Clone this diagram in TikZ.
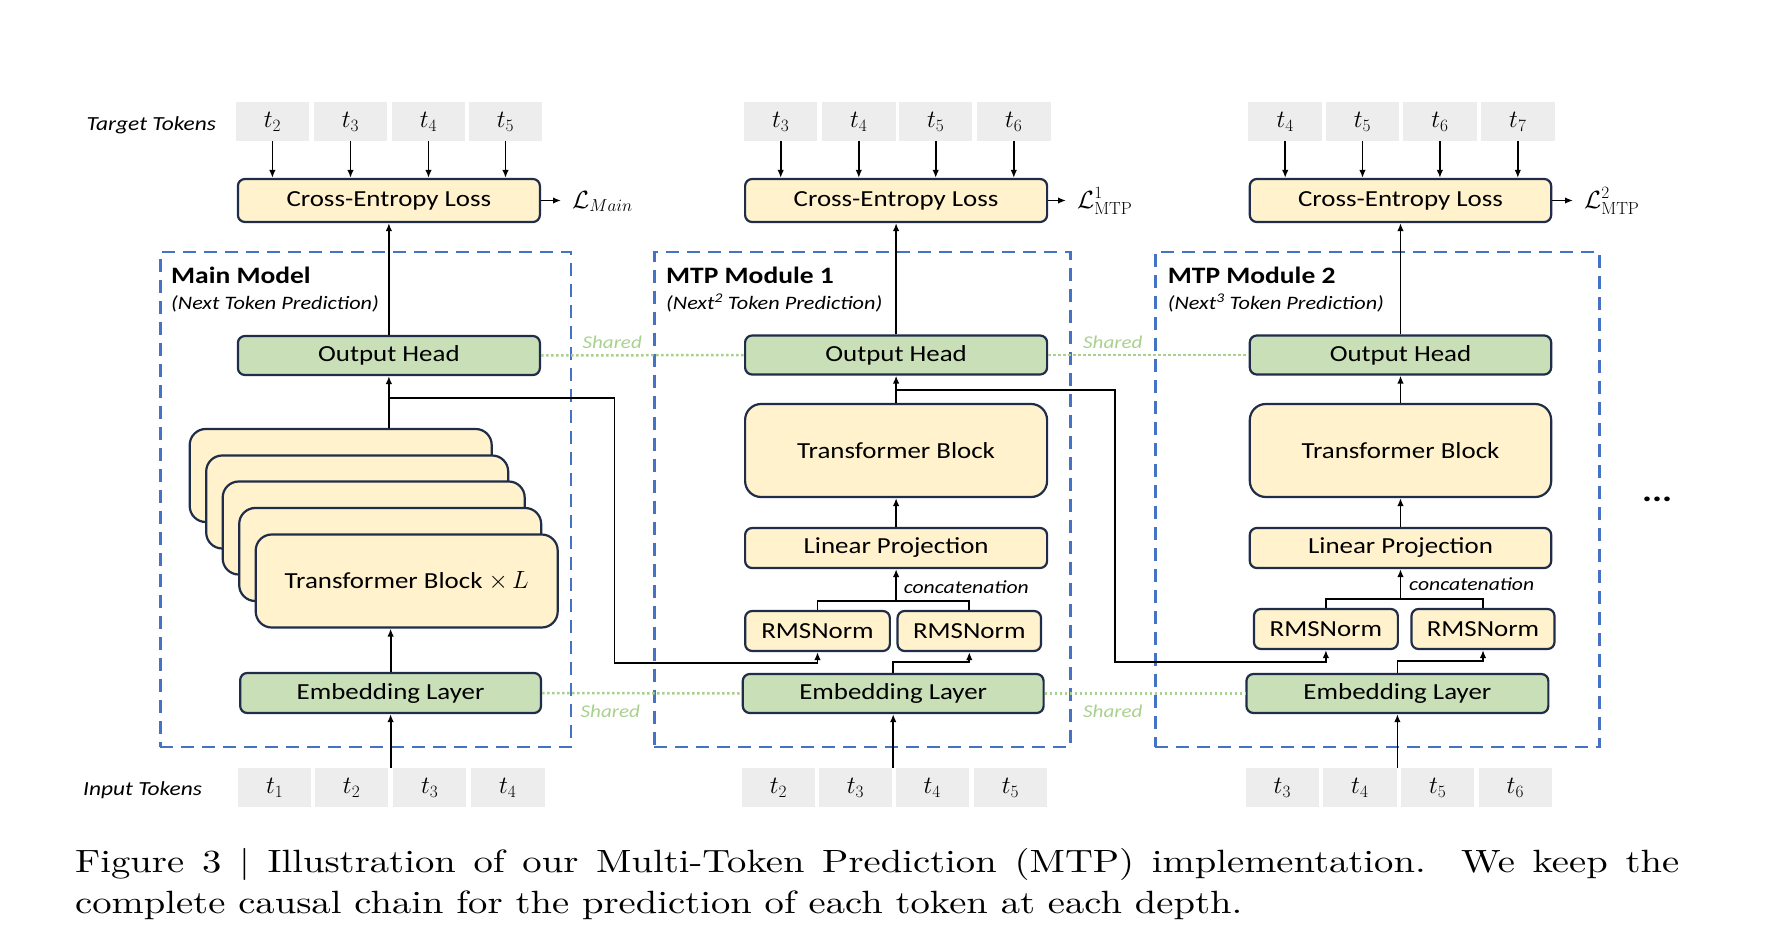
\documentclass[tikz,border=0pt]{standalone}
\usepackage{amsmath,amssymb}
\usepackage{fontspec}
\setsansfont{Carlito}[FakeStretch=1.17]
\newfontfamily\capfont{lmroman10-regular.otf}[FakeStretch=1.2]
\usepackage{tikz}
\usetikzlibrary{positioning,arrows.meta,calc}
\definecolor{mtpyellow}{HTML}{FFF2CC}
\definecolor{mtpgreen}{HTML}{C9DFB7}
\definecolor{mtpedge}{HTML}{1F2D4A}
\definecolor{mtpgray}{HTML}{EDEDED}
\definecolor{mtpblue}{HTML}{4472C4}
\definecolor{mtpshared}{HTML}{A9D18E}

\tikzset{
  boxfont/.style={font=\sffamily\fontsize{23}{27}\selectfont},
  tok/.style={fill=mtpgray,minimum width=73.5pt,minimum height=39pt,inner sep=0pt,
              font=\fontsize{26}{30}\selectfont},
  ybox/.style={draw=mtpedge,line width=2.2pt,fill=mtpyellow,rounded corners=7pt,
               inner sep=0pt,boxfont},
  gbox/.style={ybox,fill=mtpgreen},
  bigblock/.style={ybox,rounded corners=16pt,minimum height=93pt},
  frame/.style={draw=mtpblue,line width=2.8pt,dash pattern=on 13pt off 8pt,
                minimum height=495pt,inner sep=0pt},
  conn/.style={-{Latex[length=8pt,width=6.5pt]},line width=1.8pt},
  wire/.style={line width=1.8pt},
  shareline/.style={draw=mtpshared,line width=2.5pt,dash pattern=on 2.5pt off 2.5pt},
  sharedlbl/.style={text=mtpshared,inner sep=0pt,anchor=base west,
                    font=\sffamily\itshape\fontsize{18}{22}\selectfont},
  ttl/.style={inner sep=0pt,anchor=base west,font=\sffamily\bfseries\fontsize{23.5}{27}\selectfont},
  subttl/.style={inner sep=0pt,anchor=base west,font=\sffamily\itshape\fontsize{19}{23}\selectfont},
  sidelbl/.style={inner sep=0pt,anchor=base west,font=\sffamily\itshape\fontsize{20}{24}\selectfont},
  catlbl/.style={inner sep=0pt,anchor=base west,font=\sffamily\itshape\fontsize{18.5}{22}\selectfont},
  losslbl/.style={anchor=base west,inner xsep=11pt,inner ysep=0pt,font=\fontsize{25}{29}\selectfont},
  capline/.style={inner sep=0pt,anchor=base west,font=\capfont\fontsize{32.2}{40}\selectfont}
}

\begin{document}
\begin{tikzpicture}[x=1pt,y=-1pt]
  \useasboundingbox (0,0) rectangle (1770,942);

  % dashed module frames
  \node[frame,minimum width=410.6pt] (frmM) at (365.6,499.5) {};
  \node[frame,minimum width=415.7pt] (frmA) at (862.3,499.5) {};
  \node[frame,minimum width=444.5pt] (frmB) at (1377.5,499.5) {};

  % main model
  \begin{scope}
    \node[sidelbl] (tgtlbl) at (86.5,130) {Target Tokens};
    \node[tok] (tm1) at (272.4,121.5) {$t_2$};
    \node[tok] (tm2) at (350.5,121.5) {$t_3$};
    \node[tok] (tm3) at (428.5,121.5) {$t_4$};
    \node[tok] (tm4) at (505.5,121.5) {$t_5$};
    \node[ybox,minimum width=302pt,minimum height=43pt] (lossM) at (388.9,200.5) {Cross-Entropy Loss};
    \node[losslbl] (LM) at (561,208) {$\mathcal{L}_{Main}$};
    \node[ttl] (ttlM) at (171,283) {Main Model};
    \node[subttl] (subM) at (171,309) {(Next Token Prediction)};
    \node[gbox,minimum width=302pt,minimum height=39pt] (headM) at (388.9,355.5) {Output Head};
    \node[bigblock,minimum width=302pt] (blkM1) at (340.7,475.5) {};
    \node[bigblock,minimum width=302pt] (blkM2) at (357.2,502) {};
    \node[bigblock,minimum width=302pt] (blkM3) at (373.7,528) {};
    \node[bigblock,minimum width=302pt] (blkM4) at (390.2,554.5) {};
    \node[bigblock,minimum width=302pt] (blkM5) at (406.7,581) {Transformer Block $\times\, L$};
    \node[gbox,minimum width=300.8pt,minimum height=40pt] (embM) at (390.6,693) {Embedding Layer};
    \node[sidelbl] (inlbl) at (83,795) {Input Tokens};
    \node[tok] (im1) at (274.7,787.5) {$t_1$};
    \node[tok] (im2) at (351.6,787.5) {$t_2$};
    \node[tok] (im3) at (429.7,787.5) {$t_3$};
    \node[tok] (im4) at (507.8,787.5) {$t_4$};
    \coordinate (jM) at (388.9,398);
    \coordinate (bM) at (614.5,663);
  \end{scope}

  % mtp module 1
  \begin{scope}
    \node[tok] (ta1) at (780.7,121.5) {$t_3$};
    \node[tok] (ta2) at (858.8,121.5) {$t_4$};
    \node[tok] (ta3) at (935.7,121.5) {$t_5$};
    \node[tok] (ta4) at (1013.8,121.5) {$t_6$};
    \node[ybox,minimum width=302pt,minimum height=43pt] (lossA) at (896.1,200.5) {Cross-Entropy Loss};
    \node[losslbl] (LA) at (1066,208) {$\mathcal{L}^1_{\mathrm{MTP}}$};
    \node[ttl] (ttlA) at (666,283) {MTP Module 1};
    \node[subttl] (subA) at (666,309) {(Next\textsuperscript{2} Token Prediction)};
    \node[gbox,minimum width=302pt,minimum height=39pt] (headA) at (896.1,355) {Output Head};
    \node[bigblock,minimum width=302pt] (tbA) at (896.1,450.5) {Transformer Block};
    \node[ybox,minimum width=302pt,minimum height=40pt] (linA) at (896.1,548) {Linear Projection};
    \node[ybox,minimum width=144.7pt,minimum height=40pt] (nA1) at (817.5,631) {RMSNorm};
    \node[ybox,minimum width=143.5pt,minimum height=40pt] (nA2) at (969.3,631) {RMSNorm};
    \node[gbox,minimum width=300.8pt,minimum height=39pt] (embA) at (893.2,693.5) {Embedding Layer};
    \node[catlbl] (catA) at (903.6,593) {concatenation};
    \node[tok] (ia1) at (778.4,787.5) {$t_2$};
    \node[tok] (ia2) at (855.4,787.5) {$t_3$};
    \node[tok] (ia3) at (932.3,787.5) {$t_4$};
    \node[tok] (ia4) at (1010.4,787.5) {$t_5$};
    \coordinate (cA) at (896.1,601);
    \coordinate (jA) at (896.1,390);
    \coordinate (bA) at (1114.8,662);
  \end{scope}

  % mtp module 2
  \begin{scope}
    \node[tok] (tb1) at (1285.2,121.5) {$t_4$};
    \node[tok] (tb2) at (1362.5,121.5) {$t_5$};
    \node[tok] (tb3) at (1439.9,121.5) {$t_6$};
    \node[tok] (tb4) at (1517.8,121.5) {$t_7$};
    \node[ybox,minimum width=301.4pt,minimum height=43pt] (lossB) at (1400.5,200.5) {Cross-Entropy Loss};
    \node[losslbl] (LB) at (1573,208) {$\mathcal{L}^2_{\mathrm{MTP}}$};
    \node[ttl] (ttlB) at (1167.7,283) {MTP Module 2};
    \node[subttl] (subB) at (1167.7,309) {(Next\textsuperscript{3} Token Prediction)};
    \node[gbox,minimum width=301.4pt,minimum height=39pt] (headB) at (1400.5,355) {Output Head};
    \node[bigblock,minimum width=301.4pt] (tbB) at (1400.5,450.5) {Transformer Block};
    \node[ybox,minimum width=301.4pt,minimum height=40pt] (linB) at (1400.5,548) {Linear Projection};
    \node[ybox,minimum width=143.9pt,minimum height=40pt] (nB1) at (1325.9,629) {RMSNorm};
    \node[ybox,minimum width=143pt,minimum height=40pt] (nB2) at (1483,629) {RMSNorm};
    \node[gbox,minimum width=301.9pt,minimum height=39pt] (embB) at (1397.4,693.5) {Embedding Layer};
    \node[catlbl] (catB) at (1409,590) {concatenation};
    \node[tok] (ib1) at (1282.3,787.5) {$t_3$};
    \node[tok] (ib2) at (1359.8,787.5) {$t_4$};
    \node[tok] (ib3) at (1437.6,787.5) {$t_5$};
    \node[tok] (ib4) at (1515.3,787.5) {$t_6$};
    \coordinate (cB) at (1400.5,599);
    \node[font=\sffamily\bfseries\fontsize{32}{32}\selectfont] (more) at (1657,499) {...};
  \end{scope}

  % shared weights
  \draw[shareline] (headM.east) -- (headA.west);
  \draw[shareline] (headA.east) -- (headB.west);
  \draw[shareline] (embM.east) -- (embA.west);
  \draw[shareline] (embA.east) -- (embB.west);
  \node[sharedlbl] (shM1) at (582.4,348) {Shared};
  \node[sharedlbl] (shA1) at (1083,348) {Shared};
  \node[sharedlbl] (shM2) at (580.5,717) {Shared};
  \node[sharedlbl] (shA2) at (1083,717) {Shared};

  % targets into losses
  \foreach \t in {tm1,tm2,tm3,tm4}{\draw[conn] (\t.south) -- (\t.south |- lossM.north);}
  \foreach \t in {ta1,ta2,ta3,ta4}{\draw[conn] (\t.south) -- (\t.south |- lossA.north);}
  \foreach \t in {tb1,tb2,tb3,tb4}{\draw[conn] (\t.south) -- (\t.south |- lossB.north);}
  \draw[conn] (lossM.east) -- (lossM.east -| LM.west);
  \draw[conn] (lossA.east) -- (lossA.east -| LA.west);
  \draw[conn] (lossB.east) -- (lossB.east -| LB.west);

  % main flow
  \draw[conn] (embM.south |- im2.north) -- (embM.south);
  \draw[conn] (embM.north) -- (embM.north |- blkM5.south);
  \draw[conn] (headM.south |- blkM1.north) -- (headM.south);
  \draw[conn] (headM.north) -- (lossM.south);
  \draw[conn] (jM) -| (bM) -| (nA1.south);

  % module 1 flow
  \draw[conn] (embA.south |- ia2.north) -- (embA.south);
  \draw[conn] (embA.north) -- ++(0,-11) -| (nA2.south);
  \draw[wire] (nA1.north) |- (cA) -| (nA2.north);
  \draw[conn] (cA) -- (linA.south);
  \draw[conn] (linA.north) -- (tbA.south);
  \draw[conn] (tbA.north) -- (headA.south);
  \draw[conn] (headA.north) -- (lossA.south);
  \draw[conn] (jA) -| (bA) -| (nB1.south);

  % module 2 flow
  \draw[conn] (embB.south |- ib2.north) -- (embB.south);
  \draw[conn] (embB.north) -- ++(0,-12) -| (nB2.south);
  \draw[wire] (nB1.north) |- (cB) -| (nB2.north);
  \draw[conn] (cB) -- (linB.south);
  \draw[conn] (linB.north) -- (tbB.south);
  \draw[conn] (tbB.north) -- (headB.south);
  \draw[conn] (headB.north) -- (lossB.south);

  % caption
  \node[capline] (cap1) at (75,872) {\makebox[1604pt][s]{Figure 3 | Illustration of our Multi-Token Prediction (MTP) implementation.\ \ We keep the}};
  \node[capline] (cap2) at (75,913) {complete causal chain for the prediction of each token at each depth.};
\end{tikzpicture}
\end{document}
